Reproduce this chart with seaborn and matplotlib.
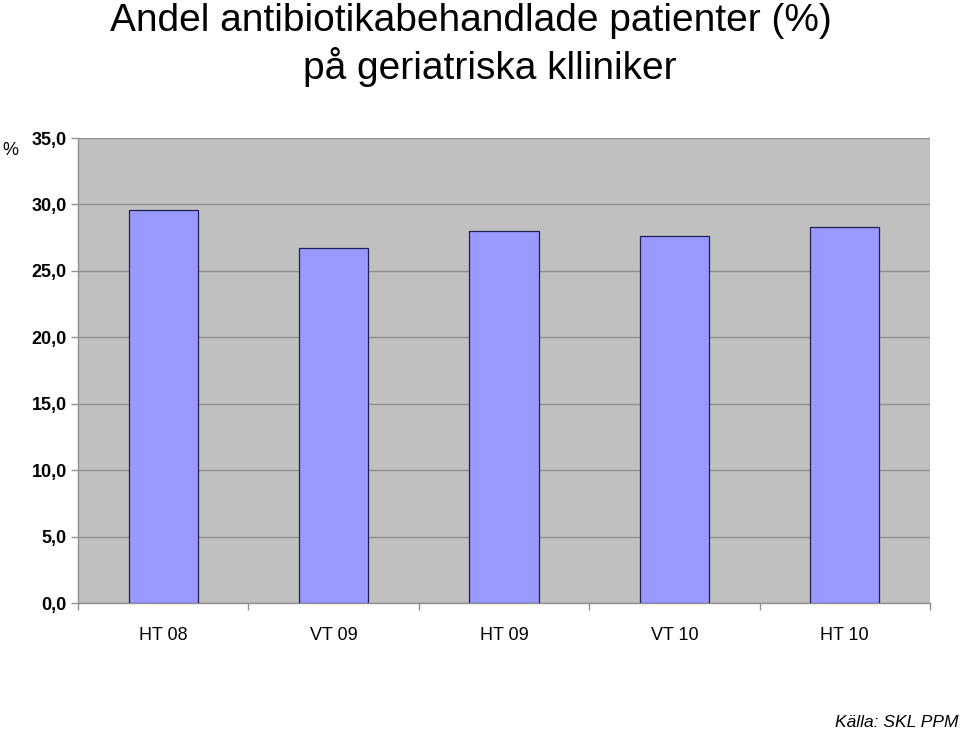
import matplotlib
matplotlib.use("Agg")
import matplotlib.pyplot as plt
import seaborn as sns
import pandas as pd

categories = ["HT 08", "VT 09", "HT 09", "VT 10", "HT 10"]
values = [29.6, 26.7, 28.0, 27.6, 28.3]
yticks = [0, 5, 10, 15, 20, 25, 30, 35]
ytick_labels = ["0,0", "5,0", "10,0", "15,0", "20,0", "25,0", "30,0", "35,0"]

sns.set_theme(style="white")
plt.rcParams['font.family'] = ['Liberation Sans', 'DejaVu Sans']
plt.rcParams['text.color'] = 'black'
plt.rcParams['xtick.color'] = 'black'
plt.rcParams['ytick.color'] = 'black'

df = pd.DataFrame({"period": categories, "value": values})

fig = plt.figure(figsize=(9.6, 7.31), dpi=100)
ax = fig.add_axes([0.08125, 0.1751, 0.8875, 0.6361])
ax.set_facecolor("#c0c0c0")

sns.barplot(data=df, x="period", y="value", ax=ax, color="#9999ff",
            width=0.405, edgecolor="#202050", linewidth=0.9, saturation=1, zorder=3)

ax.set_ylim(0, 35)
ax.set_xlim(-0.5, 4.5)
ax.set_yticks(yticks)
ax.set_yticklabels(ytick_labels)
ax.yaxis.grid(True, color="#909090", linewidth=1.0, zorder=0)
ax.set_axisbelow(True)
ax.set_xlabel("")
ax.set_ylabel("")

for s in ["top", "right"]:
    ax.spines[s].set_visible(False)
for s in ["left", "bottom"]:
    ax.spines[s].set_color("#909090")
    ax.spines[s].set_linewidth(1.0)

ax.tick_params(axis="y", which="major", length=5, color="#909090", width=1,
               labelsize=13, pad=3, left=True, labelcolor="black")
ax.tick_params(axis="x", which="major", length=0, labelsize=13, pad=17, labelcolor="black")
for lbl in ax.get_yticklabels():
    lbl.set_fontweight("bold")
ax.set_xticks([-0.5, 0.5, 1.5, 2.5, 3.5, 4.5], minor=True)
ax.tick_params(axis="x", which="minor", length=5, color="#909090", width=1, bottom=True)

fig.text(0.49, 0.996, "Andel antibiotikabehandlade patienter (%)", ha="center", va="top",
         fontsize=28, color="black")
fig.text(0.51, 0.936, "på geriatriska klliniker", ha="center", va="top", fontsize=28,
         color="black")
fig.text(0.002, 0.794, "%", ha="left", va="center", fontsize=13, color="black")
fig.text(0.998, 0.001, "Källa: SKL PPM", ha="right", va="bottom", fontsize=12.5,
         style="italic", color="black")

fig.savefig("out.png", dpi=100)
